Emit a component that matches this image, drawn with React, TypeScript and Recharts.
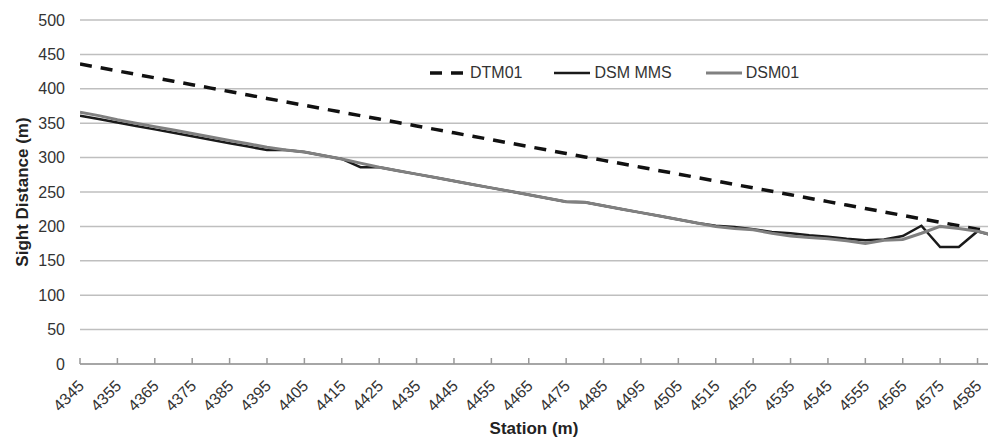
// Sight distance along the road — DTM vs DSM profiles
import {
  LineChart,
  Line,
  XAxis,
  YAxis,
  CartesianGrid,
  Label,
} from "recharts";

const STATIONS = [
  4345, 4350, 4355, 4360, 4365, 4370, 4375, 4380, 4385, 4390, 4395, 4400,
  4405, 4410, 4415, 4420, 4425, 4430, 4435, 4440, 4445, 4450, 4455, 4460,
  4465, 4470, 4475, 4480, 4485, 4490, 4495, 4500, 4505, 4510, 4515, 4520,
  4525, 4530, 4535, 4540, 4545, 4550, 4555, 4560, 4565, 4570, 4575, 4580,
  4585, 4590,
];

const DTM01 = [
  436, 431, 426, 421, 416, 411, 406, 401, 396, 391, 386, 381, 376, 371, 366,
  361, 356, 351, 346, 341, 336, 331, 326, 321, 316, 311, 306, 301, 296, 291,
  286, 281, 276, 271, 266, 261, 256, 251, 246, 241, 236, 231, 226, 221, 216,
  211, 206, 201, 196, 191,
];

const DSM_MMS = [
  361, 356, 351, 346, 341, 336, 331, 326, 321, 316, 311, 311, 308, 303, 298,
  286, 286, 281, 276, 271, 266, 261, 256, 251, 246, 241, 236, 235, 230, 225,
  220, 215, 210, 205, 201, 199, 196, 192, 190, 187, 185, 182, 180, 181, 186,
  201, 170, 170, 193, 185,
];

const DSM01 = [
  366, 361, 355, 350, 345, 340, 335, 330, 325, 320, 315, 311, 308, 303, 298,
  292, 286, 281, 276, 271, 266, 261, 256, 251, 246, 241, 236, 235, 230, 225,
  220, 215, 210, 205, 200, 197, 195, 190, 186, 184, 182, 179, 175, 180, 181,
  190, 200, 197, 193, 186,
];

const X_TICKS = [
  4345, 4355, 4365, 4375, 4385, 4395, 4405, 4415, 4425, 4435, 4445, 4455,
  4465, 4475, 4485, 4495, 4505, 4515, 4525, 4535, 4545, 4555, 4565, 4575,
  4585,
];

const Y_TICKS = [0, 50, 100, 150, 200, 250, 300, 350, 400, 450, 500];

const chartData = STATIONS.map((s, i) => ({
  station: s,
  dtm01: DTM01[i],
  dsmMms: DSM_MMS[i],
  dsm01: DSM01[i],
}));

const TEXT = "#333333";

function StationTick({ x, y, payload }: any) {
  const tx = x + 5;
  const ty = y + 17;
  return (
    <text
      x={tx}
      y={ty}
      transform={`rotate(-45 ${tx} ${ty})`}
      textAnchor="end"
      fontSize={16}
      fill={TEXT}
    >
      {payload.value}
    </text>
  );
}

const LEGEND_ITEMS = [
  { name: "DTM01", color: "#111111", dash: "12 9", width: 3.5, gap: 32 },
  { name: "DSM MMS", color: "#1a1a1a", dash: undefined, width: 2.5, gap: 34 },
  { name: "DSM01", color: "#808080", dash: undefined, width: 3, gap: 0 },
];

function LegendBox() {
  return (
    <div
      style={{
        position: "absolute",
        left: 430,
        top: 63,
        display: "flex",
        alignItems: "center",
        fontSize: 16,
        color: TEXT,
        lineHeight: "20px",
      }}
    >
      {LEGEND_ITEMS.map((it) => (
        <div key={it.name} style={{ display: "flex", alignItems: "center", marginRight: it.gap }}>
          <svg width={36} height={10} style={{ marginRight: 4 }}>
            <line
              x1={0}
              y1={5}
              x2={36}
              y2={5}
              stroke={it.color}
              strokeWidth={it.width}
              strokeDasharray={it.dash}
            />
          </svg>
          <span>{it.name}</span>
        </div>
      ))}
    </div>
  );
}

export default function App() {
  return (
    <div
      style={{
        position: "absolute",
        left: 0,
        top: 0,
        width: 988,
        height: 441,
        background: "#fff",
        fontFamily: "'Liberation Sans', Arial, sans-serif",
      }}
    >
      <LineChart
        width={988}
        height={441}
        data={chartData}
        margin={{ top: 20, right: 0, left: 0, bottom: 0 }}
      >
        <CartesianGrid vertical={false} stroke="#bfbfbf" strokeWidth={1.5} />
        <XAxis
          dataKey="station"
          type="number"
          domain={[4345, 4587.8]}
          allowDataOverflow
          ticks={X_TICKS}
          interval={0}
          height={77}
          axisLine={{ stroke: "#999", strokeWidth: 1.5 }}
          tickLine={{ stroke: "#999", strokeWidth: 1.5 }}
          tickSize={-6}
          tickMargin={12}
          tick={<StationTick />}
        >
          <Label
            content={({ viewBox }: any) => (
              <text
                x={viewBox.x + viewBox.width / 2}
                y={434}
                textAnchor="middle"
                fontSize={17}
                fontWeight="bold"
                fill="#222"
              >
                Station (m)
              </text>
            )}
          />
        </XAxis>
        <YAxis
          domain={[0, 500]}
          ticks={Y_TICKS}
          width={80}
          axisLine={false}
          tickLine={false}
          tickSize={0}
          tickMargin={15}
          tick={{ fontSize: 16, fill: TEXT }}
        >
          <Label
            content={({ viewBox }: any) => {
              const cx = 22;
              const cy = viewBox.y + viewBox.height / 2;
              return (
                <text
                  x={cx}
                  y={cy}
                  transform={`rotate(-90 ${cx} ${cy})`}
                  textAnchor="middle"
                  dominantBaseline="central"
                  fontSize={17}
                  fontWeight="bold"
                  fill="#222"
                >
                  Sight Distance (m)
                </text>
              );
            }}
          />
        </YAxis>
        <Line
          dataKey="dtm01"
          name="DTM01"
          stroke="#111111"
          strokeWidth={3.5}
          strokeDasharray="12 9"
          dot={false}
          isAnimationActive={false}
        />
        <Line
          dataKey="dsmMms"
          name="DSM MMS"
          stroke="#1a1a1a"
          strokeWidth={2.5}
          dot={false}
          isAnimationActive={false}
        />
        <Line
          dataKey="dsm01"
          name="DSM01"
          stroke="#808080"
          strokeWidth={3}
          dot={false}
          isAnimationActive={false}
        />
      </LineChart>
      <LegendBox />
    </div>
  );
}
